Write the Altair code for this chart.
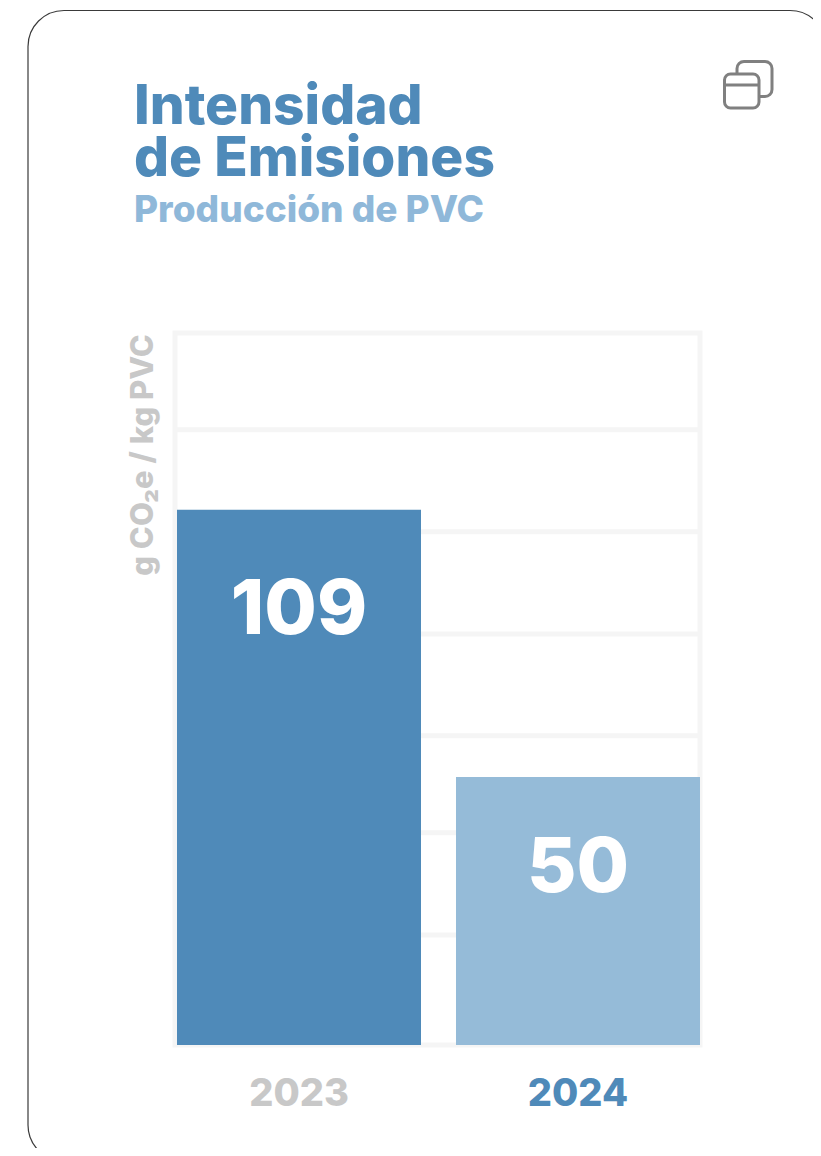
import altair as alt
import pandas as pd

# Values as printed, and bar heights (the second bar is drawn taller than its label)
years = ["2023", "2024"]
printed = ["109", "50"]
drawn = [109, 54.6]
grid_values = [22.4, 43.2, 63, 83.7, 104.5, 125.3]
title_lines = ["Intensidad", "de Emisiones"]
subtitle = "Producción de PVC"
y_title = "g CO₂e / kg PVC"

BLUE = "#4f8ab9"
LIGHT = "#95bbd8"
SUB = "#8fb8d9"
GRAY = "#c8c8c8"
FRAME = "#f5f5f5"
ICON = "#808080"
FONT = "Inter"

one = pd.DataFrame({"a": [0]})
df = pd.DataFrame({"year": years, "drawn": drawn, "printed": printed})
grid = pd.DataFrame({"v": grid_values})

x_enc = alt.X("year:N", axis=None, scale=alt.Scale(domain=years, range=[169, 692], paddingInner=0.1254, paddingOuter=0))
y_scale = alt.Scale(domain=[0, 145], range=[1037, 325], nice=False, zero=True)
y_enc = alt.Y("drawn:Q", axis=None, scale=y_scale)


def box(x, x2, y, y2, **kw):
    return alt.Chart(one).mark_rect(**kw).encode(
        x=alt.value(x), x2=alt.value(x2), y=alt.value(y), y2=alt.value(y2))


def label(text, x, y, size, color, **kw):
    return alt.Chart(one).mark_text(text=text, font=FONT, fontWeight=800, fontSize=size, color=color,
                                    align=kw.pop("align", "left"), baseline=kw.pop("baseline", "alphabetic"), **kw
                                    ).encode(x=alt.value(x), y=alt.value(y))


card = box(20, 818, 2.5, 1153, fill="white", stroke="#3a3a3a", strokeWidth=1.2, cornerRadius=36)
icon_back = box(729, 764, 53.5, 88.5, fill="white", stroke=ICON, strokeWidth=3, cornerRadius=7)
icon_front = box(716.5, 751, 66, 100, fill="white", stroke=ICON, strokeWidth=3, cornerRadius=6)
icon_bar = alt.Chart(one).mark_rule(color=ICON, strokeWidth=3).encode(
    x=alt.value(716.5), x2=alt.value(751), y=alt.value(77))

frame = box(167, 692, 325, 1037, fill="white", stroke=FRAME, strokeWidth=5)
rules = alt.Chart(grid).mark_rule(color=FRAME, strokeWidth=5).encode(
    y=alt.Y("v:Q", axis=None, scale=y_scale), x=alt.value(167), x2=alt.value(692))

bars = alt.Chart(df).mark_bar().encode(
    x=x_enc, y=y_enc,
    color=alt.Color("year:N", legend=None, scale=alt.Scale(domain=years, range=[BLUE, LIGHT])))

val_a = alt.Chart(df).transform_filter(alt.datum.year == "2023").mark_text(
    font=FONT, fontWeight=800, fontSize=76, color="white", baseline="middle", dy=101
).encode(x=x_enc, y=y_enc, text="printed:N")
val_b = alt.Chart(df).transform_filter(alt.datum.year == "2024").mark_text(
    font=FONT, fontWeight=800, fontSize=76, color="white", baseline="middle", dy=92
).encode(x=x_enc, y=y_enc, text="printed:N")

ticks = alt.Chart(df).mark_text(font=FONT, fontWeight=800, fontSize=38, baseline="middle").encode(
    x=x_enc, y=alt.value(1087),
    color=alt.Color("year:N", legend=None, scale=alt.Scale(domain=years, range=[GRAY, BLUE])),
    text="year:N")

chart = alt.layer(
    card, icon_back, icon_front, icon_bar,
    label(title_lines[0], 126, 116, 55, BLUE),
    label(title_lines[1], 126, 168, 55, BLUE),
    label(subtitle, 126, 214, 37, SUB),
    label(y_title, 145, 447, 31, GRAY, align="center", baseline="alphabetic", angle=270),
    frame, rules, bars, val_a, val_b, ticks,
).resolve_scale(color="independent").properties(
    width=805, height=1140, padding=0,
    autosize=alt.AutoSizeParams(type="none"),
).configure_view(stroke=None)

chart.save("out.html", embed_options={"renderer": "svg", "actions": False})
